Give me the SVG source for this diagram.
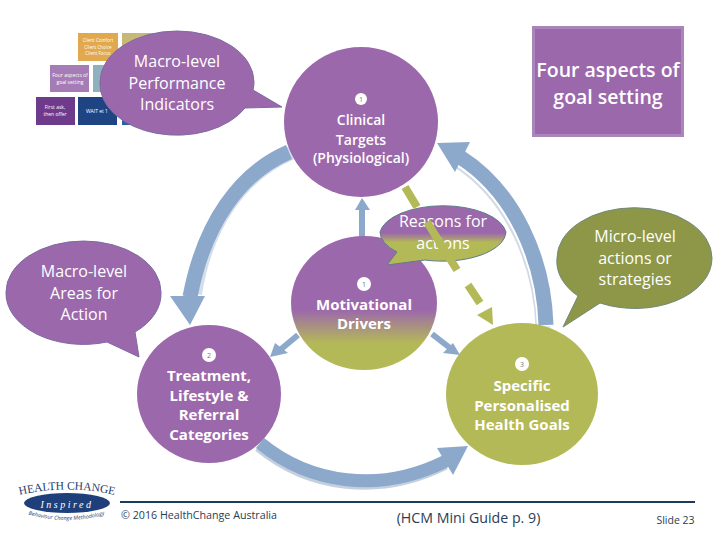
<svg xmlns="http://www.w3.org/2000/svg" width="720" height="540" viewBox="0 0 720 540">
<defs>
<linearGradient id="g" x1="0" y1="0" x2="0" y2="1"><stop offset="0.55" stop-color="#9c68ac"/><stop offset="0.8" stop-color="#b4b958"/></linearGradient>
<linearGradient id="r" x1="0" y1="0" x2="0" y2="1"><stop offset="0.46" stop-color="#9c68ac"/><stop offset="0.62" stop-color="#b4b958"/></linearGradient>
<path id="arcTop" d="M19 495Q67 484 115 495"/>
<path id="arcBottom" d="M23 513Q67 527 110 513"/>
</defs>
<style>
text{font-family:"Open Sans","Liberation Sans",sans-serif;fill:#fff;text-anchor:middle}
.m{font-size:16px}.b{font-size:15px;font-weight:700}.p{fill:#9c68ac}.o{fill:#b4b958}
.a{fill:none;stroke:#8ca9cc;stroke-width:15}.f{fill:#8ca9cc}.s{fill:none;stroke:#8ca9cc;stroke-width:6}
.d{fill:none;stroke:#b4b958;stroke-width:8}.n{fill:#777;font-size:7px}.t{font-size:5px}.dark{fill:#2a3d55}
.bub{fill:#9c68ac;stroke:#7d6aa2;stroke-width:1}
</style>
<rect width="720" height="540" fill="#fff"/>
<g id="thumbnail">
<rect x="78" y="33" width="40" height="28" fill="#e2a84e"/><rect x="122" y="33" width="32" height="28" fill="#c8b878"/>
<rect x="50" y="65" width="39" height="27" fill="#a57cb5"/><rect x="93" y="65" width="32" height="27" fill="#8fb0bd"/>
<rect x="36" y="97" width="39" height="28" fill="#6d3a8c"/><rect x="78" y="97" width="39" height="28" fill="#1f4484"/><rect x="122" y="97" width="32" height="28" fill="#2f5da0"/>
<text class="t" x="70" y="77">Four aspects of</text><text class="t" x="70" y="84">goal setting</text>
<text class="t" x="55" y="109">First ask,</text><text class="t" x="55" y="116">then offer</text><text class="t" x="97" y="113">WAIT et 1</text>
<text class="t" x="98" y="42" style="font-size:4.5px">Client Comfort</text><text class="t" x="98" y="48.5" style="font-size:4.5px">Client Choice</text><text class="t" x="98" y="55" style="font-size:4.5px">Client Focus</text>
</g>
<g id="connectors">
<path d="M289 152C240 173 204 223 193 293" fill="none" stroke="#d5dfeb" stroke-width="14" transform="translate(2 1)"/>
<path class="a" d="M289 152C240 173 204 223 190 297"/><path class="f" d="M170 296L205 296L190 325Z"/>
<path d="M546 325C544 260 515 192 460 157" fill="none" stroke="#d2dae6" stroke-width="15" transform="translate(-3 3)"/>
<path d="M546 325C544 260 515 192 460 157" fill="none" stroke="#fff" stroke-width="15" transform="translate(-1.500 1.500)"/>
<path class="a" d="M546 325C544 260 515 192 460 157"/><path class="f" d="M437 143L470 142L455 172Z"/>
<path d="M260 443C310 484 380 494 446 461" fill="none" stroke="#c5d0df" stroke-width="12" transform="translate(-1 3)"/>
<path class="a" style="stroke-width:13" d="M260 443C310 484 380 494 446 461"/><path class="f" d="M437 448L468 446L453 475Z"/>
<path class="s" d="M362 237V208"/><path class="f" d="M355 210L362 198L370 210Z"/>
<path class="s" d="M298 335L280 350"/><path class="f" d="M270 357L275 343L288 353Z"/>
<path class="s" d="M432 334L450 348"/><path class="f" d="M460 355L453 343L443 353Z"/>
</g>
<g id="four-aspects"><rect x="532" y="26" width="152" height="111" fill="#a985b9"/><rect x="535" y="29" width="146" height="105" fill="#9c68ac"/><text x="608" y="77" font-size="19.500" font-weight="600">Four aspects of</text><text x="608" y="104" font-size="19.500" font-weight="600">goal setting</text></g>
<g id="macro-performance"><path class="bub" d="M100 82A77 51 0 0 1 254 82Q254 86 253 90L282 107L245 108A77 51 0 0 1 100 82Z"/><text class="m" x="177" y="67">Macro-level</text><text class="m" x="177" y="89">Performance</text><text class="m" x="177" y="110">Indicators</text></g>
<g id="clinical"><ellipse class="p" cx="361" cy="122" rx="77" ry="75"/><circle cx="361" cy="99" r="6" fill="#fff"/><text class="n" x="361" y="101.500">1</text><text x="361" y="125" font-size="14" font-weight="600">Clinical</text><text x="361" y="145" font-size="14" font-weight="600">Targets</text><text x="361" y="163" font-size="14" font-weight="600">(Physiological)</text></g>
<g id="macro-areas"><path class="bub" d="M6 292A77.500 51 0 0 1 161 292A77.500 51 0 0 1 135 332L139 357L107 342A77.500 51 0 0 1 6 292Z"/><text class="m" x="84" y="277">Macro-level</text><text class="m" x="84" y="299">Areas for</text><text class="m" x="84" y="320">Action</text></g>
<g id="motivational"><ellipse cx="364" cy="303" rx="73" ry="67" fill="url(#g)"/><circle cx="364" cy="284" r="7" fill="#fff"/><text class="n" x="364" y="286.500">1</text><text class="b" x="364" y="310">Motivational</text><text class="b" x="364" y="329">Drivers</text></g>
<g id="reasons"><path d="M380 232A63.500 30 0 0 1 506 232A63.500 30 0 0 1 425 260L387 265L397 252A63.500 30 0 0 1 380 232Z" fill="url(#r)" stroke="#5e7d8a"/><text class="m" x="443" y="227">Reasons for</text><text class="m" x="443" y="249">actions</text></g>
<g id="micro"><path fill="#8d9747" stroke="#6f8a7c" d="M557 258A77 50 0 0 1 712 258A77 50 0 0 1 600 303L563 327L578 296A77 50 0 0 1 557 258Z"/><text class="m" x="635" y="242">Micro-level</text><text class="m" x="635" y="264">actions or</text><text class="m" x="635" y="285">strategies</text></g>
<g id="treatment"><ellipse class="p" cx="209" cy="394" rx="72" ry="69"/><circle cx="209" cy="355" r="7" fill="#fff"/><text class="n" x="209" y="357.500">2</text><text class="b" x="209" y="381">Treatment,</text><text class="b" x="209" y="401">Lifestyle &amp;</text><text class="b" x="209" y="420">Referral</text><text class="b" x="209" y="440">Categories</text></g>
<g id="specific"><ellipse class="o" cx="522" cy="394" rx="76" ry="71"/><circle cx="522" cy="364" r="7" fill="#fff"/><text class="n" x="522" y="366.500">3</text><text class="b" x="522" y="391">Specific</text><text class="b" x="522" y="411">Personalised</text><text class="b" x="522" y="430">Health Goals</text></g>
<g id="connectors-dashed">
<path class="d" d="M405 187L417 207M427 222L457 270M468 285L480 303"/><path class="o" d="M477 315L492 307L493 325Z"/>
</g>
<g id="footer">
<path d="M120 502H695" stroke="#1c3b5c" stroke-width="2"/>
<text font-size="11.500" style="font-family:'Liberation Serif',serif;fill:#1f3d6d"><textPath href="#arcTop" startOffset="50%">HEALTH CHANGE</textPath></text>
<ellipse cx="67" cy="503" rx="43" ry="10" fill="#1e3f7a"/><text x="67" y="507.500" font-size="10" font-style="italic" letter-spacing="2.500" style="font-family:'Liberation Serif',serif">Inspired</text>
<text font-size="5.500" font-style="italic" style="fill:#1f3d6d"><textPath href="#arcBottom" startOffset="50%">Behaviour Change Methodology</textPath></text>
<text class="dark" x="199" y="519" font-size="10.700">© 2016 HealthChange Australia</text>
<text class="dark" x="468.500" y="523" font-size="14.200">(HCM Mini Guide p. 9)</text>
<text class="dark" x="675.500" y="524" font-size="10.500">Slide 23</text>
</g>
</svg>
